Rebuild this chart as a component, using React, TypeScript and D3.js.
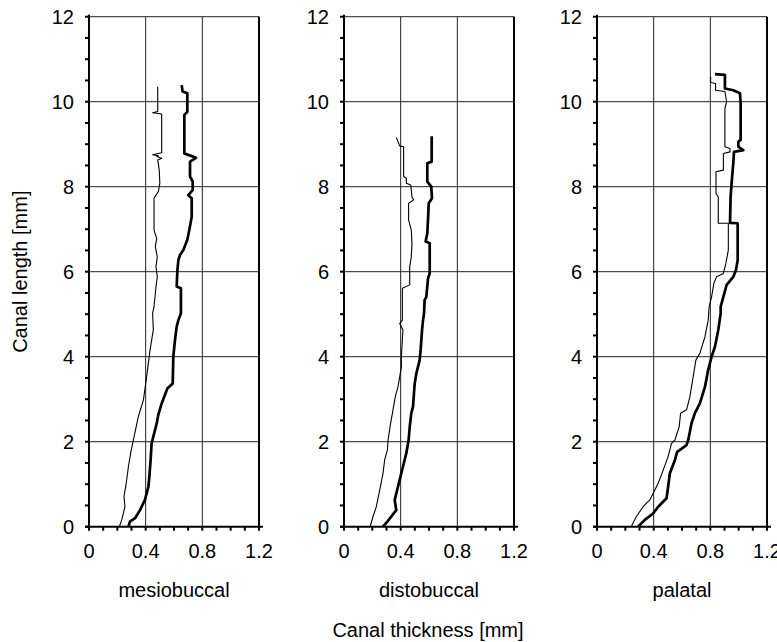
import * as d3 from "d3";

type Pt = [number, number];

// canal thickness (x, mm) vs canal length (y, mm)
const panelNames = ["mesiobuccal", "distobuccal", "palatal"];
const xTickLabels = [0, 0.4, 0.8, 1.2];
const yTickLabels = [0, 2, 4, 6, 8, 10, 12];

const mesioThin: Pt[] = [
  [0.214, 0], [0.231, 0.16], [0.254, 0.47], [0.247, 0.71], [0.262, 1.0], [0.278, 1.41],
  [0.295, 1.75], [0.313, 2.04], [0.33, 2.3], [0.348, 2.59], [0.384, 2.98], [0.407, 3.53],
  [0.431, 4.16], [0.454, 4.63], [0.449, 5.02], [0.459, 5.18], [0.466, 5.41], [0.473, 5.65],
  [0.482, 5.88], [0.473, 6.12], [0.482, 6.35], [0.468, 6.59], [0.478, 6.78], [0.459, 6.98],
  [0.459, 7.73], [0.489, 7.88], [0.5, 8.08], [0.496, 8.39], [0.485, 8.63], [0.513, 8.67],
  [0.478, 8.71], [0.49, 8.73], [0.449, 8.75], [0.513, 8.8], [0.513, 9.71], [0.449, 9.74],
  [0.485, 9.77], [0.485, 10.35],
];
const mesioThick: Pt[] = [
  [0.278, 0], [0.289, 0.12], [0.325, 0.2], [0.36, 0.39], [0.395, 0.63], [0.419, 0.94],
  [0.426, 1.18], [0.435, 1.57], [0.442, 1.96], [0.454, 2.12], [0.478, 2.43], [0.489, 2.63],
  [0.513, 2.9], [0.553, 3.25], [0.591, 3.37], [0.595, 4.0], [0.607, 4.39], [0.619, 4.71],
  [0.631, 4.86], [0.649, 5.02], [0.649, 5.61], [0.619, 5.65], [0.624, 6.04], [0.631, 6.27],
  [0.642, 6.39], [0.666, 6.51], [0.694, 6.75], [0.708, 6.98], [0.725, 7.29], [0.725, 7.73],
  [0.701, 7.8], [0.732, 7.92], [0.732, 8.12], [0.713, 8.24], [0.713, 8.59], [0.755, 8.68],
  [0.725, 8.72], [0.673, 8.78], [0.673, 9.69], [0.694, 9.76], [0.694, 10.2], [0.661, 10.24],
  [0.654, 10.39],
];
const distoThin: Pt[] = [
  [0.188, 0], [0.188, 0.04], [0.205, 0.24], [0.228, 0.47], [0.252, 0.86], [0.275, 1.25],
  [0.287, 1.57], [0.306, 1.8], [0.311, 2.04], [0.329, 2.43], [0.346, 2.75], [0.362, 3.06],
  [0.381, 3.29], [0.405, 3.76], [0.405, 4.0], [0.416, 4.63], [0.393, 4.78], [0.412, 4.86],
  [0.412, 5.61], [0.464, 5.69], [0.464, 6.12], [0.475, 6.35], [0.48, 6.67], [0.475, 6.98],
  [0.456, 7.22], [0.456, 7.61], [0.492, 7.69], [0.48, 7.76], [0.471, 8.04], [0.44, 8.08],
  [0.44, 8.2], [0.421, 8.24], [0.421, 8.94], [0.393, 8.96], [0.381, 9.06], [0.369, 9.16],
];
const distoThick: Pt[] = [
  [0.275, 0], [0.306, 0.12], [0.334, 0.24], [0.369, 0.39], [0.358, 0.63], [0.369, 0.78],
  [0.393, 1.1], [0.416, 1.41], [0.44, 1.73], [0.456, 2.04], [0.464, 2.35], [0.475, 2.67],
  [0.487, 2.82], [0.499, 3.37], [0.511, 3.61], [0.534, 3.92], [0.541, 4.16], [0.551, 4.63],
  [0.558, 4.86], [0.565, 5.02], [0.569, 5.33], [0.581, 5.41], [0.593, 5.84], [0.605, 5.96],
  [0.605, 6.67], [0.576, 6.71], [0.588, 6.9], [0.593, 7.22], [0.598, 7.61], [0.621, 7.73],
  [0.616, 8.0], [0.588, 8.12], [0.588, 8.55], [0.619, 8.59], [0.619, 9.19],
];
const palatalThin: Pt[] = [
  [0.243, 0], [0.25, 0.06], [0.278, 0.24], [0.325, 0.47], [0.373, 0.63], [0.396, 0.78],
  [0.432, 1.02], [0.467, 1.33], [0.502, 1.65], [0.526, 1.96], [0.55, 2.04], [0.58, 2.35],
  [0.59, 2.67], [0.632, 2.75], [0.656, 3.06], [0.679, 3.53], [0.698, 3.92], [0.726, 4.08],
  [0.762, 4.47], [0.785, 4.86], [0.792, 5.18], [0.809, 5.41], [0.825, 5.73], [0.844, 5.88],
  [0.892, 5.96], [0.91, 6.2], [0.927, 6.51], [0.927, 7.14], [0.856, 7.14], [0.856, 7.76],
  [0.84, 7.84], [0.84, 8.35], [0.892, 8.39], [0.892, 8.78], [0.939, 8.82], [0.939, 8.9],
  [0.903, 8.94], [0.903, 9.84], [0.915, 10.0], [0.903, 10.24], [0.837, 10.27], [0.837, 10.43],
  [0.802, 10.45], [0.802, 10.59],
];
const palatalThick: Pt[] = [
  [0.29, 0], [0.302, 0.04], [0.337, 0.16], [0.396, 0.31], [0.432, 0.47], [0.491, 0.67],
  [0.502, 0.94], [0.514, 1.25], [0.55, 1.57], [0.566, 1.76], [0.632, 1.92], [0.644, 2.04],
  [0.667, 2.43], [0.691, 2.67], [0.726, 2.9], [0.762, 3.29], [0.785, 3.69], [0.809, 4.0],
  [0.833, 4.24], [0.856, 4.63], [0.873, 5.02], [0.873, 5.18], [0.892, 5.41], [0.915, 5.69],
  [0.962, 5.88], [0.981, 6.04], [0.993, 6.27], [0.993, 7.14], [0.939, 7.15], [0.943, 7.76],
  [0.95, 8.08], [0.962, 8.55], [0.967, 8.82], [1.033, 8.86], [0.998, 8.94], [0.998, 9.06],
  [1.014, 9.1], [1.014, 9.96], [1.009, 10.2], [0.962, 10.27], [0.903, 10.31], [0.903, 10.63],
  [0.833, 10.65],
];

const thinSeries = [mesioThin, distoThin, palatalThin];
const thickSeries = [mesioThick, distoThick, palatalThick];

const W = 777;
const H = 642;
const panelLeft = [89, 344, 597];
const panelWidth = 170;
const top = 16.7;
const bottom = 526.7;
const font = "'Liberation Sans', Arial, Helvetica, sans-serif";
const fs = 20;

const y = d3.scaleLinear().domain([0, 12]).range([bottom, top]);

function Panel({ i }: { i: number }) {
  const x = d3.scaleLinear().domain([0, 1.2]).range([panelLeft[i], panelLeft[i] + panelWidth]);
  const line = d3
    .line<Pt>()
    .x((d) => x(d[0]))
    .y((d) => y(d[1]));
  const xMinor = d3.range(0, 13).map((k) => k / 10);
  const yMinor = d3.range(0, 25).map((k) => k / 2);
  const x0 = x(0);
  const x1 = x(1.2);
  return (
    <g>
      {/* grid */}
      {[0.4, 0.8].map((v) => (
        <line key={"gx" + v} x1={x(v)} x2={x(v)} y1={y(0)} y2={y(12)} stroke="#222" strokeWidth={1} />
      ))}
      {[2, 4, 6, 8, 10, 12].map((v) => (
        <line key={"gy" + v} x1={x0} x2={x1} y1={y(v)} y2={y(v)} stroke="#222" strokeWidth={1} />
      ))}
      {/* data */}
      <path d={line(thinSeries[i]) ?? ""} fill="none" stroke="#000" strokeWidth={1.1} strokeLinejoin="round" />
      <path d={line(thickSeries[i]) ?? ""} fill="none" stroke="#000" strokeWidth={2.7} strokeLinejoin="round" />
      {/* frame */}
      <line x1={x0} x2={x0} y1={y(0) + 1} y2={y(12) - 2} stroke="#000" strokeWidth={2} />
      <line x1={x1} x2={x1} y1={y(0) + 1} y2={y(12)} stroke="#000" strokeWidth={2} />
      <line x1={x0 - 4} x2={x1 + 4} y1={y(0)} y2={y(0)} stroke="#000" strokeWidth={2} />
      {xMinor.map((v) => (
        <line key={"tx" + v} x1={x(v)} x2={x(v)} y1={y(0)} y2={y(0) + 4} stroke="#000" strokeWidth={2} />
      ))}
      {yMinor.map((v) => (
        <line key={"ty" + v} x1={x0 - 4} x2={x0} y1={y(v)} y2={y(v)} stroke="#000" strokeWidth={2} />
      ))}
      {xTickLabels.map((v) => (
        <text key={"lx" + v} x={x(v)} y={y(0) + 31.5} textAnchor="middle" fontSize={fs} fontFamily={font}>
          {v}
        </text>
      ))}
      {yTickLabels.map((v) => (
        <text key={"ly" + v} x={x0 - 15} y={y(v) + 7} textAnchor="end" fontSize={fs} fontFamily={font}>
          {v}
        </text>
      ))}
      <text x={(x0 + x1) / 2} y={597} textAnchor="middle" fontSize={fs} fontFamily={font}>
        {panelNames[i]}
      </text>
    </g>
  );
}

export default function App() {
  return (
    <svg
      width={W}
      height={H}
      viewBox={`0 0 ${W} ${H}`}
      style={{ position: "absolute", left: 0, top: 0, background: "#fff" }}
    >
      {panelNames.map((_, i) => (
        <Panel key={i} i={i} />
      ))}
      <text
        transform={`translate(27, ${(top + bottom) / 2}) rotate(-90)`}
        textAnchor="middle"
        fontSize={fs}
        fontFamily={font}
      >
        Canal length [mm]
      </text>
      <text x={428} y={637} textAnchor="middle" fontSize={fs} fontFamily={font}>
        Canal thickness [mm]
      </text>
    </svg>
  );
}
